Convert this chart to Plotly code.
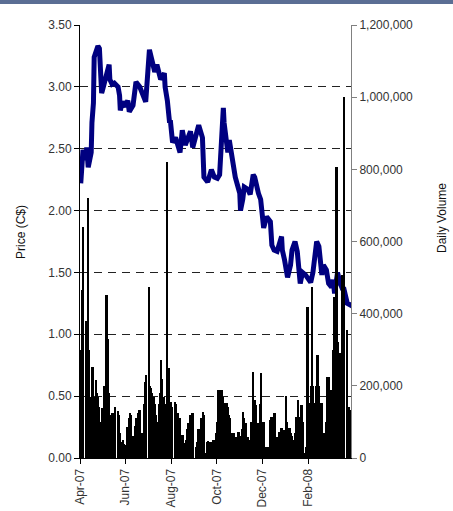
import pandas as pd
import plotly.graph_objects as go

# ---------------- data ----------------
price_dates = [
    "2007-04-02", "2007-04-05", "2007-04-09", "2007-04-10", "2007-04-12", "2007-04-16", "2007-04-17",
    "2007-04-19", "2007-04-20", "2007-04-23", "2007-04-25", "2007-04-27", "2007-04-30", "2007-05-01",
    "2007-05-04", "2007-05-08", "2007-05-10", "2007-05-11", "2007-05-14", "2007-05-17", "2007-05-22",
    "2007-05-24", "2007-05-25", "2007-05-28", "2007-06-01", "2007-06-04", "2007-06-06", "2007-06-11",
    "2007-06-15", "2007-06-20", "2007-06-25", "2007-06-28", "2007-07-03", "2007-07-04", "2007-07-05",
    "2007-07-09", "2007-07-10", "2007-07-13", "2007-07-18", "2007-07-23", "2007-07-24", "2007-07-27",
    "2007-07-30", "2007-07-31", "2007-08-03", "2007-08-07", "2007-08-13", "2007-08-16", "2007-08-20",
    "2007-08-27", "2007-08-30", "2007-09-04", "2007-09-07", "2007-09-12", "2007-09-14", "2007-09-19",
    "2007-09-24", "2007-09-28", "2007-10-02", "2007-10-05", "2007-10-09", "2007-10-10", "2007-10-11",
    "2007-10-16", "2007-10-18", "2007-10-22", "2007-10-26", "2007-11-01", "2007-11-02", "2007-11-05",
    "2007-11-07", "2007-11-12", "2007-11-15", "2007-11-19", "2007-11-21", "2007-11-26", "2007-11-29",
    "2007-12-03", "2007-12-05", "2007-12-07", "2007-12-12", "2007-12-14", "2007-12-17", "2007-12-21",
    "2007-12-27", "2007-12-28", "2007-12-31", "2008-01-04", "2008-01-08", "2008-01-10", "2008-01-14",
    "2008-01-17", "2008-01-21", "2008-01-24", "2008-01-28", "2008-02-04", "2008-02-07", "2008-02-11",
    "2008-02-12", "2008-02-15", "2008-02-19", "2008-02-21", "2008-02-25", "2008-02-28", "2008-03-03",
    "2008-03-05", "2008-03-07", "2008-03-11", "2008-03-14", "2008-03-18", "2008-03-19", "2008-03-24",
    "2008-03-27", "2008-03-28",
]
price_values = [
    2.22, 2.49, 2.41, 2.51, 2.35, 2.47, 2.71,
    2.87, 3.24, 3.31, 3.33, 3.31, 2.95, 2.97,
    3.04, 3.14, 3.18, 3.06, 3.02, 3.03, 3.00,
    2.93, 2.81, 2.88, 2.84, 2.89, 2.80, 2.85,
    3.04, 3.00, 2.91, 2.88, 3.30, 3.28, 3.23,
    3.15, 3.12, 3.18, 3.06, 3.11, 3.00, 2.89,
    2.71, 2.73, 2.55, 2.59, 2.47, 2.65, 2.53,
    2.64, 2.51, 2.63, 2.69, 2.59, 2.27, 2.23,
    2.33, 2.27, 2.26, 2.29, 2.62, 2.83, 2.71,
    2.47, 2.57, 2.41, 2.27, 2.14, 2.00, 2.09,
    2.19, 2.17, 2.13, 2.29, 2.27, 2.14, 2.09,
    1.86, 1.91, 1.95, 1.91, 1.72, 1.68, 1.67,
    1.79, 1.68, 1.60, 1.46, 1.56, 1.68, 1.75,
    1.67, 1.41, 1.50, 1.48, 1.42, 1.50, 1.72,
    1.75, 1.71, 1.48, 1.56, 1.52, 1.41, 1.38,
    1.44, 1.33, 1.50, 1.42, 1.36, 1.38, 1.25,
    1.24, 1.26,
]

# daily volume (thousands of shares), one list per month of trading days
vol_2007_04 = [155, 300, 465, 640, 380, 260, 250, 720, 300, 170, 250, 252, 230, 170, 216, 180, 170, 140, 127, 100]
vol_2007_05 = [138, 100, 60, 200, 452, 330, 250, 180, 120, 100, 125, 97, 110, 141, 130, 120, 55, 70, 44, 50, 40, 36]
vol_2007_06 = [36, 86, 70, 110, 125, 120, 41, 60, 41, 90, 110, 125, 100, 133, 130, 69, 69, 150, 210, 200, 230]
vol_2007_07 = [474, 200, 194, 180, 170, 150, 141, 120, 100, 78, 150, 180, 272, 220, 170, 120, 100, 150, 820, 250, 155]
vol_2007_08 = [155, 140, 114, 155, 150, 125, 125, 110, 22, 30, 64, 64, 42, 42, 50, 80, 97, 119, 100, 125, 110, 125]
vol_2007_09 = [30, 45, 69, 80, 97, 110, 100, 127, 120, 14, 25, 44, 48, 44, 44, 40, 42, 50, 42]
vol_2007_10 = [69, 100, 160, 188, 188, 188, 170, 150, 152, 152, 140, 111, 120, 111, 69, 69, 60, 69, 58, 58, 72, 72]
vol_2007_11 = [60, 44, 80, 127, 110, 97, 97, 58, 40, 30, 50, 100, 238, 161, 161, 147, 147, 97, 90, 110, 150, 235]
vol_2007_12 = [100, 50, 30, 25, 30, 30, 30, 105, 105, 114, 114, 125, 125, 58, 58, 72, 83, 83, 78]
vol_2008_01 = [172, 100, 83, 83, 69, 69, 60, 50, 50, 70, 114, 114, 161, 114, 114, 147, 147, 100, 14, 30, 60, 418]
vol_2008_02 = [152, 152, 200, 474, 200, 152, 152, 200, 285, 285, 200, 152, 69, 69, 69, 100, 150, 224, 224, 188]
vol_2008_03 = [188, 188, 224, 300, 446, 806, 321, 321, 291, 291, 291, 507, 400, 1000, 355, 140, 133, 140, 133]

monthly_volumes = [
    ("2007-04", vol_2007_04), ("2007-05", vol_2007_05), ("2007-06", vol_2007_06),
    ("2007-07", vol_2007_07), ("2007-08", vol_2007_08), ("2007-09", vol_2007_09),
    ("2007-10", vol_2007_10), ("2007-11", vol_2007_11), ("2007-12", vol_2007_12),
    ("2008-01", vol_2008_01), ("2008-02", vol_2008_02), ("2008-03", vol_2008_03),
]
market_holidays = ["2007-04-06", "2007-05-21", "2007-07-02", "2007-08-06", "2007-09-03", "2007-10-08",
                   "2007-12-25", "2007-12-26", "2008-01-01", "2008-02-18", "2008-03-21"]

x_tick_dates = ["2007-04-01", "2007-06-01", "2007-08-01", "2007-10-01", "2007-12-01", "2008-02-01"]
left_ticks = [0, 0.5, 1.0, 1.5, 2.0, 2.5, 3.0, 3.5]
right_ticks = [0, 200000, 400000, 600000, 800000, 1000000, 1200000]

# ---------------- build volume series ----------------
hol = set(pd.to_datetime(market_holidays))
vol_dates, vol_values = [], []
for month, vals in monthly_volumes:
    start = pd.Timestamp(month + "-01")
    end = start + pd.offsets.MonthEnd(0)
    days = [d for d in pd.bdate_range(start, end) if d not in hol]
    for d, v in zip(days, vals):
        vol_dates.append(d)
        vol_values.append(v * 1000)

FONT = "Arial, Liberation Sans, sans-serif"
fig = go.Figure()

fig.add_trace(go.Scatter(
    x=pd.to_datetime(price_dates), y=price_values, mode="lines",
    line=dict(color="#000080", width=5), yaxis="y", showlegend=False,
))
fig.add_trace(go.Bar(
    x=vol_dates, y=vol_values, yaxis="y2",
    marker=dict(color="black", line=dict(width=0)),
    width=86400000 * 2.4, showlegend=False,
))

fig.update_layout(
    width=453, height=511,
    margin=dict(l=80, r=102, t=25, b=53),
    paper_bgcolor="white", plot_bgcolor="white",
    font=dict(family=FONT, size=12, color="#333333"),
    bargap=0,
    xaxis=dict(
        type="date", range=["2007-04-01", "2008-03-29"],
        tickvals=x_tick_dates, tickformat="%b-%y", tickangle=-90,
        ticks="outside", ticklen=5, tickcolor="black",
        showline=True, linecolor="black", linewidth=1,
        showgrid=False, zeroline=False, automargin=False,
        tickfont=dict(size=12, color="#333333"),
    ),
    yaxis=dict(
        range=[0, 3.5], tickvals=left_ticks, tickformat=".2f",
        ticks="outside", ticklen=5, tickcolor="black",
        showline=True, linecolor="black", linewidth=1,
        showgrid=True, gridcolor="#222222", gridwidth=1, griddash="8px,6px",
        zeroline=False, automargin=False, tickfont=dict(size=12, color="#333333"),
    ),
    yaxis2=dict(
        overlaying="y", side="right", range=[0, 1200000],
        tickvals=right_ticks, tickformat=",d",
        ticks="outside", ticklen=5, tickcolor="#808080",
        showline=True, linecolor="#808080", linewidth=1,
        showgrid=False, zeroline=False, automargin=False,
        tickfont=dict(size=12, color="#333333"),
    ),
    shapes=[dict(type="rect", xref="paper", yref="paper",
                 x0=-0.31, x1=1.39, y0=(458 - 4) / 433, y1=1.07,
                 fillcolor="#5b6e94", line=dict(width=0), layer="above")],
    annotations=[
        dict(text="Price (C$)", textangle=-90, xref="paper", yref="paper",
             x=(21 - 80) / 271, y=(458 - 232) / 433, showarrow=False,
             font=dict(size=12, color="#111111"), xanchor="center", yanchor="middle"),
        dict(text="Daily Volume", textangle=-90, xref="paper", yref="paper",
             x=(442 - 80) / 271, y=(458 - 218) / 433, showarrow=False,
             font=dict(size=12, color="#111111"), xanchor="center", yanchor="middle"),
    ],
)

fig.write_html(
    "out.html",
    config={"displayModeBar": False},
    post_script="document.body.style.margin='0';document.body.style.padding='0';"
                "document.documentElement.style.overflow='hidden';",
)
